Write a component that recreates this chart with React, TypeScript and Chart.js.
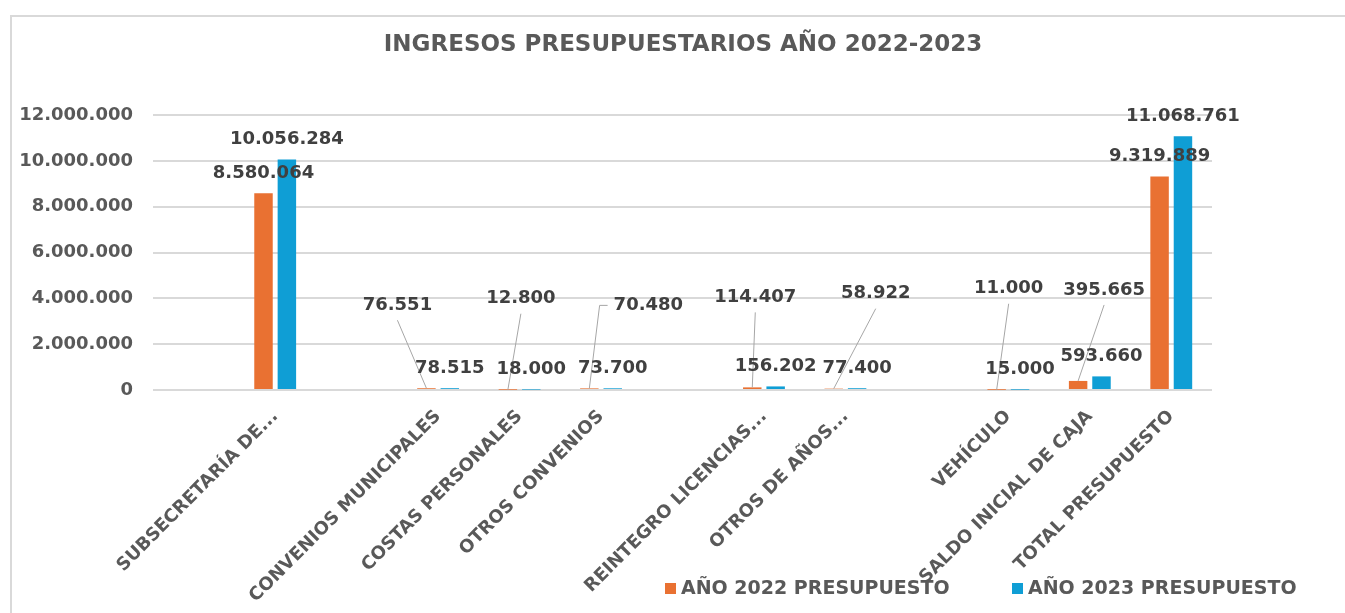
import React, { useEffect, useRef } from "react";
import { Chart, registerables } from "chart.js";

Chart.register(...registerables);

const chartTitle = "INGRESOS PRESUPUESTARIOS AÑO 2022-2023";
const categories = [
  "",
  "SUBSECRETARÍA DE...",
  "",
  "CONVENIOS MUNICIPALES",
  "COSTAS PERSONALES",
  "OTROS CONVENIOS",
  "",
  "REINTEGRO LICENCIAS...",
  "OTROS DE AÑOS...",
  "",
  "VEHÍCULO",
  "SALDO INICIAL DE CAJA",
  "TOTAL PRESUPUESTO",
];
const seriesNames = ["AÑO 2022 PRESUPUESTO", "AÑO 2023 PRESUPUESTO"];
const presupuesto2022 = [null, 8580064, null, 76551, 12800, 70480, null, 114407, 58922, null, 11000, 395665, 9319889];
const presupuesto2023 = [null, 10056284, null, 78515, 18000, 73700, null, 156202, 77400, null, 15000, 593660, 11068761];
const yMin = 0;
const yMax = 12000000;
const yStep = 2000000;

// label placement for the 2022 series: [dx, dy] from bar top to label centre, elbow flag
const callouts2022: (null | [number, number, boolean?])[] = [
  null, null, null, [-29, -83], [13, -91], [59, -83, true], null, [3, -90], [42, -95], null, [12, -101], [26, -91], null,
];

const COLORS = ["#E97132", "#0F9ED5"];
const FONT = "'DejaVu Sans', sans-serif";

const fmt = (n: number) => String(Math.round(n)).replace(/\B(?=(\d{3})+(?!\d))/g, ".");

const decorPlugin = {
  id: "decor",
  beforeDraw(chart: any) {
    const ctx = chart.ctx;
    ctx.save();
    ctx.strokeStyle = "#d9d9d9";
    ctx.lineWidth = 2;
    ctx.beginPath();
    ctx.moveTo(11, 700);
    ctx.lineTo(11, 16);
    ctx.lineTo(1400, 16);
    ctx.stroke();
    ctx.restore();
  },
  afterDraw(chart: any) {
    const ctx = chart.ctx;
    ctx.save();
    ctx.fillStyle = "#595959";
    ctx.font = `bold 23px ${FONT}`;
    ctx.textAlign = "center";
    ctx.textBaseline = "middle";
    ctx.fillText(chartTitle, 683, 45, 600);

    // legend
    const starts = [665, 1012];
    ctx.font = `bold 19px ${FONT}`;
    ctx.textAlign = "left";
    seriesNames.forEach((name, i) => {
      const x = starts[i];
      ctx.fillStyle = COLORS[i];
      ctx.fillRect(x, 583, 11, 11);
      ctx.fillStyle = "#595959";
      ctx.fillText(name, x + 16, 589, 270);
    });
    ctx.restore();
  },
  afterDatasetsDraw(chart: any) {
    const ctx = chart.ctx;
    ctx.save();
    ctx.font = `bold 18px ${FONT}`;
    ctx.textAlign = "center";
    ctx.textBaseline = "middle";
    const labels: { text: string; x: number; y: number }[] = [];
    chart.data.datasets.forEach((ds: any, di: number) => {
      const meta = chart.getDatasetMeta(di);
      ds.data.forEach((v: number | null, i: number) => {
        if (v === null || v === undefined) return;
        const bar = meta.data[i];
        const bx = bar.x;
        const by = bar.y;
        const co = di === 0 ? callouts2022[i] : null;
        if (co) {
          const cx = bx + co[0];
          const cy = by + co[1];
          const text = fmt(v);
          ctx.strokeStyle = "#a6a6a6";
          ctx.lineWidth = 1;
          ctx.beginPath();
          if (co[2]) {
            const w = ctx.measureText(text).width;
            const left = cx - w / 2 - 6;
            ctx.moveTo(bx, by);
            ctx.lineTo(left - 8, cy);
            ctx.lineTo(left, cy);
          } else {
            ctx.moveTo(bx, by);
            ctx.lineTo(cx, cy + 15);
          }
          ctx.stroke();
          labels.push({ text, x: cx, y: cy });
        } else {
          labels.push({ text: fmt(v), x: bx, y: by - 20 });
        }
      });
    });
    ctx.fillStyle = "#404040";
    labels.forEach((l) => ctx.fillText(l.text, l.x, l.y));
    ctx.restore();
  },
};

export default function App() {
  const ref = useRef<HTMLCanvasElement>(null);
  useEffect(() => {
    document.body.style.margin = "0";
    const chart = new Chart(ref.current as HTMLCanvasElement, {
      type: "bar",
      data: {
        labels: categories,
        datasets: [
          {
            label: seriesNames[0],
            data: presupuesto2022,
            backgroundColor: COLORS[0],
            categoryPercentage: 0.574,
            barPercentage: 0.79,
          },
          {
            label: seriesNames[1],
            data: presupuesto2023,
            backgroundColor: COLORS[1],
            categoryPercentage: 0.574,
            barPercentage: 0.79,
          },
        ],
      },
      options: {
        responsive: false,
        animation: false,
        layout: { padding: { top: 115, right: 133, left: 0, bottom: 0 } },
        plugins: {
          legend: { display: false },
          tooltip: { enabled: false },
          title: { display: false },
        },
        scales: {
          x: {
            grid: { display: false },
            border: { display: false },
            ticks: {
              autoSkip: false,
              minRotation: 45,
              maxRotation: 45,
              padding: 8,
              color: "#595959",
              font: { family: FONT, size: 18, weight: "bold" },
            },
            afterFit: (s: any) => {
              s.height = 223;
            },
          },
          y: {
            min: yMin,
            max: yMax,
            grid: { color: "#d9d9d9", lineWidth: 2, drawTicks: false },
            border: { display: false },
            ticks: {
              stepSize: yStep,
              padding: 20,
              color: "#595959",
              font: { family: FONT, size: 18, weight: "bold" },
              callback: (v: any) => fmt(Number(v)),
            },
            afterFit: (s: any) => {
              s.width = 153;
            },
          },
        },
      } as any,
      plugins: [decorPlugin],
    });
    return () => chart.destroy();
  }, []);
  return (
    <div style={{ position: "fixed", left: 0, top: 0, width: 1345, height: 613, background: "#fff" }}>
      <canvas ref={ref} width={1345} height={613} style={{ width: 1345, height: 613, display: "block" }} />
    </div>
  );
}
